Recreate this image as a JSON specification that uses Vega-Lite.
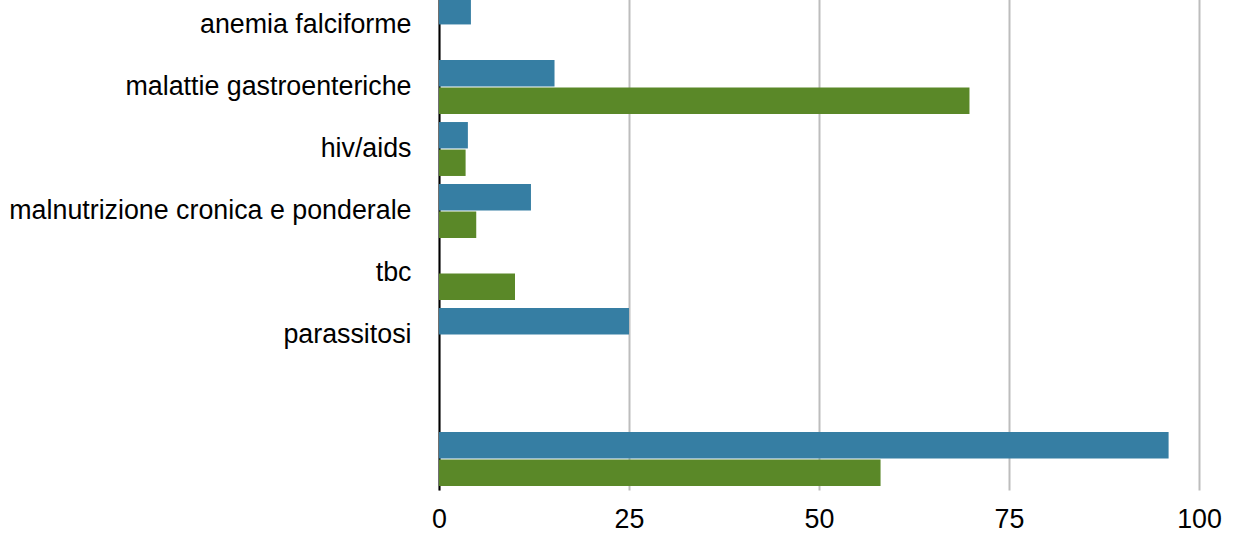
{
  "$schema": "https://vega.github.io/schema/vega-lite/v6.json",
  "autosize": {"type": "none"},
  "width": 760,
  "height": 496,
  "padding": {"left": 439, "top": -6, "right": 40, "bottom": 45},
  "background": "white",
  "config": {"view": {"stroke": null}, "font": "Liberation Sans"},
  "data": {"values": [
    {"cat": "anemia falciforme", "serie": "A", "v": 4.2},
    {"cat": "malattie gastroenteriche", "serie": "A", "v": 15.2},
    {"cat": "malattie gastroenteriche", "serie": "B", "v": 69.8},
    {"cat": "hiv/aids", "serie": "A", "v": 3.8},
    {"cat": "hiv/aids", "serie": "B", "v": 3.5},
    {"cat": "malnutrizione cronica e ponderale", "serie": "A", "v": 12.1},
    {"cat": "malnutrizione cronica e ponderale", "serie": "B", "v": 4.9},
    {"cat": "tbc", "serie": "B", "v": 10.0},
    {"cat": "parassitosi", "serie": "A", "v": 25.0},
    {"cat": "  ", "serie": "A", "v": 96.0},
    {"cat": "  ", "serie": "B", "v": 58.1}
  ]},
  "mark": {"type": "bar"},
  "encoding": {
    "y": {
      "field": "cat", "type": "nominal",
      "sort": ["anemia falciforme", "malattie gastroenteriche", "hiv/aids", "malnutrizione cronica e ponderale", "tbc", "parassitosi", " ", "  "],
      "scale": {"domain": ["anemia falciforme", "malattie gastroenteriche", "hiv/aids", "malnutrizione cronica e ponderale", "tbc", "parassitosi", " ", "  "], "paddingInner": 0.13, "paddingOuter": 0.065},
      "axis": {"title": null, "domainColor": "black", "domainWidth": 2, "ticks": false, "labelFontSize": 26.8, "labelColor": "black", "labelPadding": 28, "labelLimit": 500}
    },
    "yOffset": {"field": "serie", "type": "nominal", "scale": {"domain": ["A", "B"], "paddingInner": 0.04}},
    "x": {
      "field": "v", "type": "quantitative",
      "scale": {"domain": [0, 100], "nice": false},
      "axis": {"title": null, "values": [0, 25, 50, 75, 100], "domain": false, "ticks": false, "gridColor": "#bdbdbd", "gridWidth": 2, "labelFontSize": 26.8, "labelColor": "black", "labelPadding": 16, "labelFlush": false, "labelOverlap": false}
    },
    "color": {"field": "serie", "type": "nominal", "scale": {"domain": ["A", "B"], "range": ["#367ea3", "#5a8828"]}, "legend": null}
  }
}
